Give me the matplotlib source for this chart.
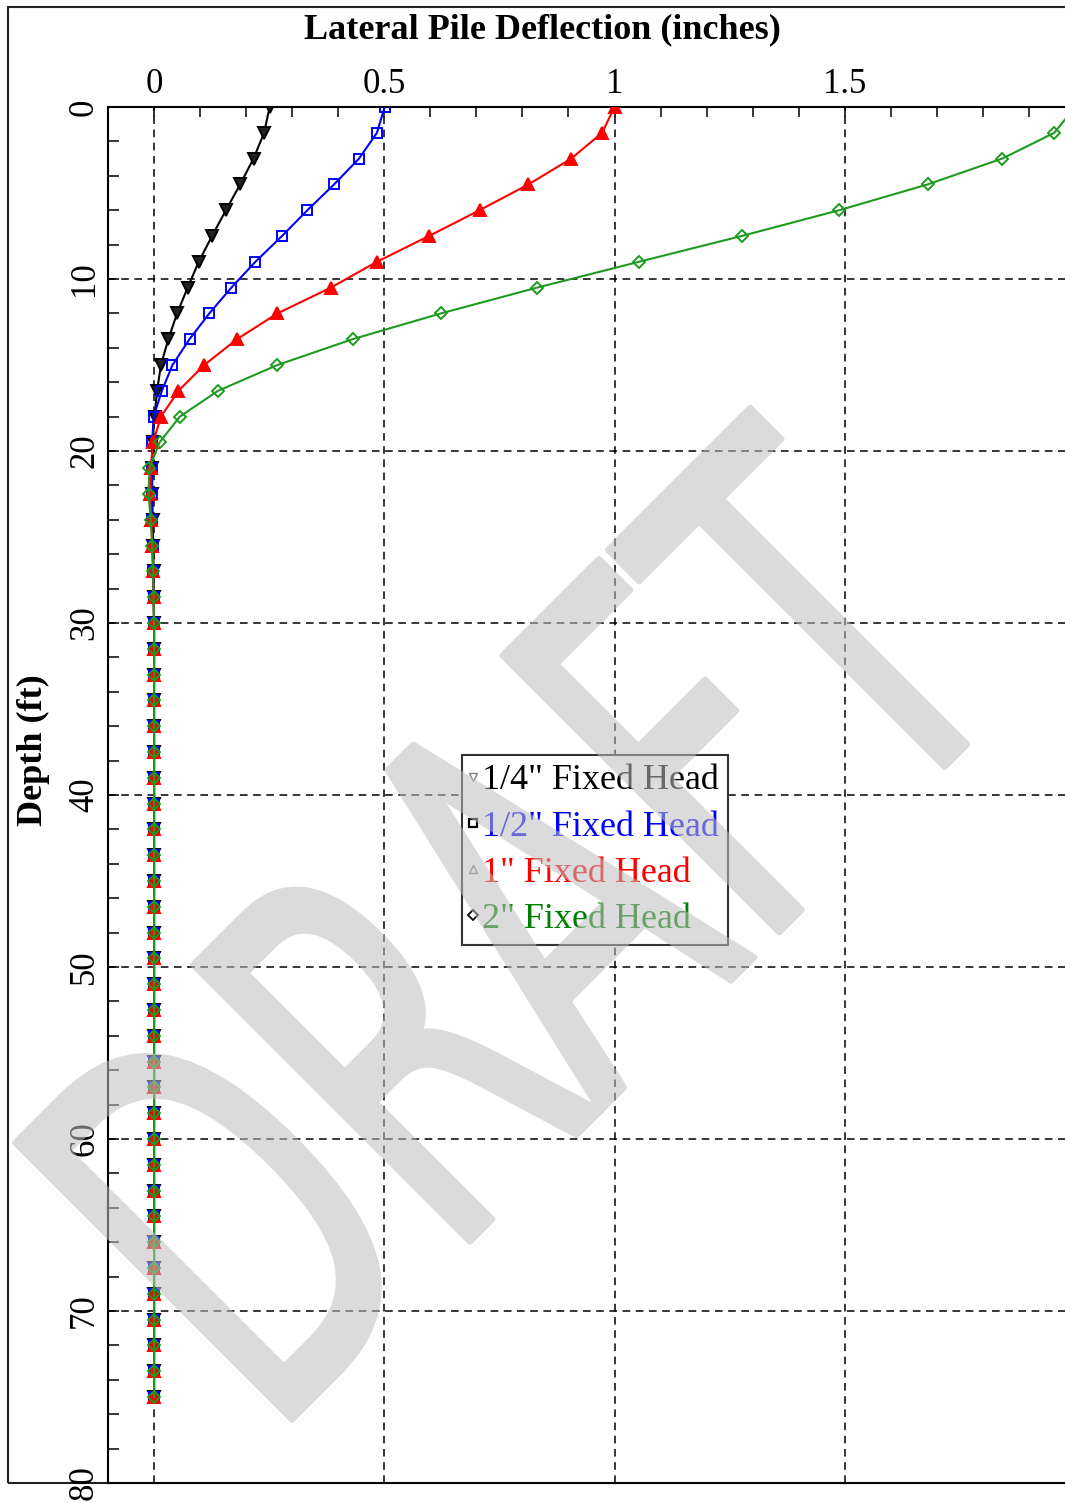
import numpy as np
import matplotlib
matplotlib.use("Agg")
import matplotlib.pyplot as plt
from matplotlib.lines import Line2D
from matplotlib.patches import Rectangle, PathPatch
from matplotlib.textpath import TextPath
from matplotlib.font_manager import FontProperties
from matplotlib.transforms import Affine2D
from matplotlib.ticker import MultipleLocator, FixedLocator

# ---------------- data ----------------
depth_ft = [0.0, 1.5, 3.0, 4.5, 6.0, 7.5, 9.0, 10.5, 12.0, 13.5, 15.0, 16.5, 18.0,
            19.5, 21.0, 22.5, 24.0, 25.5, 27.0, 28.5, 30.0, 31.5, 33.0, 34.5, 36.0,
            37.5, 39.0, 40.5, 42.0, 43.5, 45.0, 46.5, 48.0, 49.5, 51.0, 52.5, 54.0,
            55.5, 57.0, 58.5, 60.0, 61.5, 63.0, 64.5, 66.0, 67.5, 69.0, 70.5, 72.0,
            73.5, 75.0]

defl_quarter = [0.251, 0.239, 0.216, 0.187, 0.156, 0.126, 0.097, 0.073, 0.050, 0.031,
                0.015, 0.0065, 0.001, -0.003, -0.004, -0.004, -0.003, -0.002, -0.001,
                -0.0005, 0.0, 0.0, 0.0, 0.0, 0.0, 0.0, 0.0, 0.0, 0.0, 0.0, 0.0, 0.0,
                0.0, 0.0, 0.0, 0.0, 0.0, 0.0, 0.0, 0.0, 0.0, 0.0, 0.0, 0.0, 0.0, 0.0,
                0.0, 0.0, 0.0, 0.0, 0.0]

defl_half = [0.501, 0.484, 0.445, 0.391, 0.333, 0.278, 0.220, 0.168, 0.120, 0.077,
             0.040, 0.017, -0.001, -0.004, -0.005, -0.005, -0.004, -0.003, -0.002,
             -0.001, 0.0, 0.0, 0.0, 0.0, 0.0, 0.0, 0.0, 0.0, 0.0, 0.0, 0.0, 0.0,
             0.0, 0.0, 0.0, 0.0, 0.0, 0.0, 0.0, 0.0, 0.0, 0.0, 0.0, 0.0, 0.0, 0.0,
             0.0, 0.0, 0.0, 0.0, 0.0]

defl_one = [1.000, 0.973, 0.906, 0.813, 0.707, 0.597, 0.484, 0.384, 0.268, 0.180,
            0.109, 0.053, 0.015, -0.002, -0.007, -0.008, -0.006, -0.004, -0.002,
            -0.001, 0.0, 0.0, 0.0, 0.0, 0.0, 0.0, 0.0, 0.0, 0.0, 0.0, 0.0, 0.0,
            0.0, 0.0, 0.0, 0.0, 0.0, 0.0, 0.0, 0.0, 0.0, 0.0, 0.0, 0.0, 0.0, 0.0,
            0.0, 0.0, 0.0, 0.0, 0.0]

defl_two = [2.000, 1.955, 1.842, 1.680, 1.488, 1.276, 1.053, 0.832, 0.623, 0.431,
            0.268, 0.139, 0.056, 0.012, -0.010, -0.012, -0.007, -0.004, -0.002,
            -0.001, 0.0, 0.0, 0.0, 0.0, 0.0, 0.0, 0.0, 0.0, 0.0, 0.0, 0.0, 0.0,
            0.0, 0.0, 0.0, 0.0, 0.0, 0.0, 0.0, 0.0, 0.0, 0.0, 0.0, 0.0, 0.0, 0.0,
            0.0, 0.0, 0.0, 0.0, 0.0]

series_labels = ['1/4" Fixed Head', '1/2" Fixed Head', '1" Fixed Head', '2" Fixed Head']
x_ticks = [0, 0.5, 1, 1.5]
x_tick_labels = ["0", "0.5", "1", "1.5"]
y_ticks = [0, 10, 20, 30, 40, 50, 60, 70, 80]
y_tick_labels = ["0", "10", "20", "30", "40", "50", "60", "70", "80"]
title_text = "Lateral Pile Deflection (inches)"
ylabel_text = "Depth (ft)"
watermark_text = "DRAFT"

# ---------------- figure ----------------
W, H = 1065, 1503
plt.rcParams["font.family"] = ["Liberation Serif", "DejaVu Serif"]
plt.rcParams["lines.scale_dashes"] = False

fig = plt.figure(figsize=(W / 100, H / 100), dpi=100)
fig.patch.set_facecolor("white")

# outer frame
fig.add_artist(Rectangle((8 / W, 1 - 1483 / H), (1100 - 8) / W, (1483 - 7) / H,
                         transform=fig.transFigure, fill=False, ec="#222222",
                         lw=1.5, zorder=0))

ax = fig.add_axes([108 / W, 1 - 1483 / H, (1075 - 108) / W, (1483 - 107) / H])
ax.set_xlim(-0.1, 2.0)
ax.set_ylim(80, 0)

ax.xaxis.tick_top()
ax.xaxis.set_major_locator(FixedLocator(x_ticks))
ax.set_xticklabels(x_tick_labels)
ax.xaxis.set_minor_locator(MultipleLocator(0.1))
ax.yaxis.set_major_locator(FixedLocator(y_ticks))
ax.set_yticklabels(y_tick_labels)
ax.yaxis.set_minor_locator(MultipleLocator(2))

ax.tick_params(axis="x", which="both", direction="in", top=True, bottom=False,
               length=7, width=1.1, labelsize=25, pad=4, colors="black")
ax.tick_params(axis="y", which="both", direction="in", left=True, right=False,
               length=8, width=1.1, labelsize=25, pad=5, labelrotation=90)
for lab in ax.get_yticklabels():
    lab.set_va("center")

for s in ax.spines.values():
    s.set_linewidth(1.5)
    s.set_color("black")

ax.set_axisbelow(True)
ax.grid(True, which="major", color="black", linestyle=(0, (5.5, 4.0)), linewidth=1.1)

series = [defl_quarter, defl_half, defl_one, defl_two]
colors = ["black", "blue", "red", "#1e9a1e"]
markers = ["v", "s", "^", "D"]
mfcs = ["#222222", "none", "red", "none"]
msizes = [8, 7, 8, 6.5]
lws = [1.5, 1.5, 1.5, 1.5]
for vals, c, m, mf, ms, lw in zip(series, colors, markers, mfcs, msizes, lws):
    ax.plot(vals, depth_ft, color=c, lw=lw, marker=m, ms=ms, mfc=mf, mec=c,
            mew=1.4, zorder=3)

# legend
handles = [
    Line2D([], [], ls="none", marker="v", ms=6, mfc="none", mec="#808080", mew=1.0),
    Line2D([], [], ls="none", marker="s", ms=6, mfc="none", mec="black", mew=1.6),
    Line2D([], [], ls="none", marker="^", ms=6, mfc="none", mec="#808080", mew=1.0),
    Line2D([], [], ls="none", marker="D", ms=5, mfc="none", mec="black", mew=1.3),
]
leg = ax.legend(handles, series_labels, loc="upper left",
                bbox_to_anchor=(462 / W, 1 - 755 / H), bbox_transform=fig.transFigure,
                borderaxespad=0, fontsize=26, frameon=True, fancybox=False,
                framealpha=1, edgecolor="#333333", handlelength=0.1,
                handletextpad=0.2, borderpad=0.25, labelspacing=0.36)
leg.get_frame().set_linewidth(1.5)
leg.set_zorder(5)
for t, c in zip(leg.get_texts(), ["black", "blue", "red", "green"]):
    t.set_color(c)

# titles
fig.text(542 / W, 1 - 30 / H, title_text, ha="center", va="center",
         fontsize=26, fontweight="bold")
fig.text(33 / W, 1 - 750 / H, ylabel_text, ha="center", va="center",
         fontsize=26, fontweight="bold", rotation=90)

# watermark
tp = TextPath((0, 0), watermark_text, size=1, prop=FontProperties(family="DejaVu Sans"))
ext = tp.get_extents()
sx = 1040 / ext.width
sy = 392 / ext.height
tr = (Affine2D().translate(-ext.x0, -ext.y0).scale(sx, sy).rotate_deg(45)
      .translate(292, H - 1420))
wm_col = 0.75


def wm_filter(img, dpi):
    out = img.copy()
    out[..., 0] = wm_col
    out[..., 1] = wm_col
    out[..., 2] = wm_col
    out[..., 3] = out[..., 3] * 0.55
    return out, 0, 0


wm = PathPatch(tp, transform=tr, facecolor=(wm_col,) * 3, edgecolor=(wm_col,) * 3,
               lw=4, joinstyle="round", capstyle="round", zorder=20)
wm.set_agg_filter(wm_filter)
fig.add_artist(wm)

fig.savefig("out.png", dpi=100, facecolor="white")
